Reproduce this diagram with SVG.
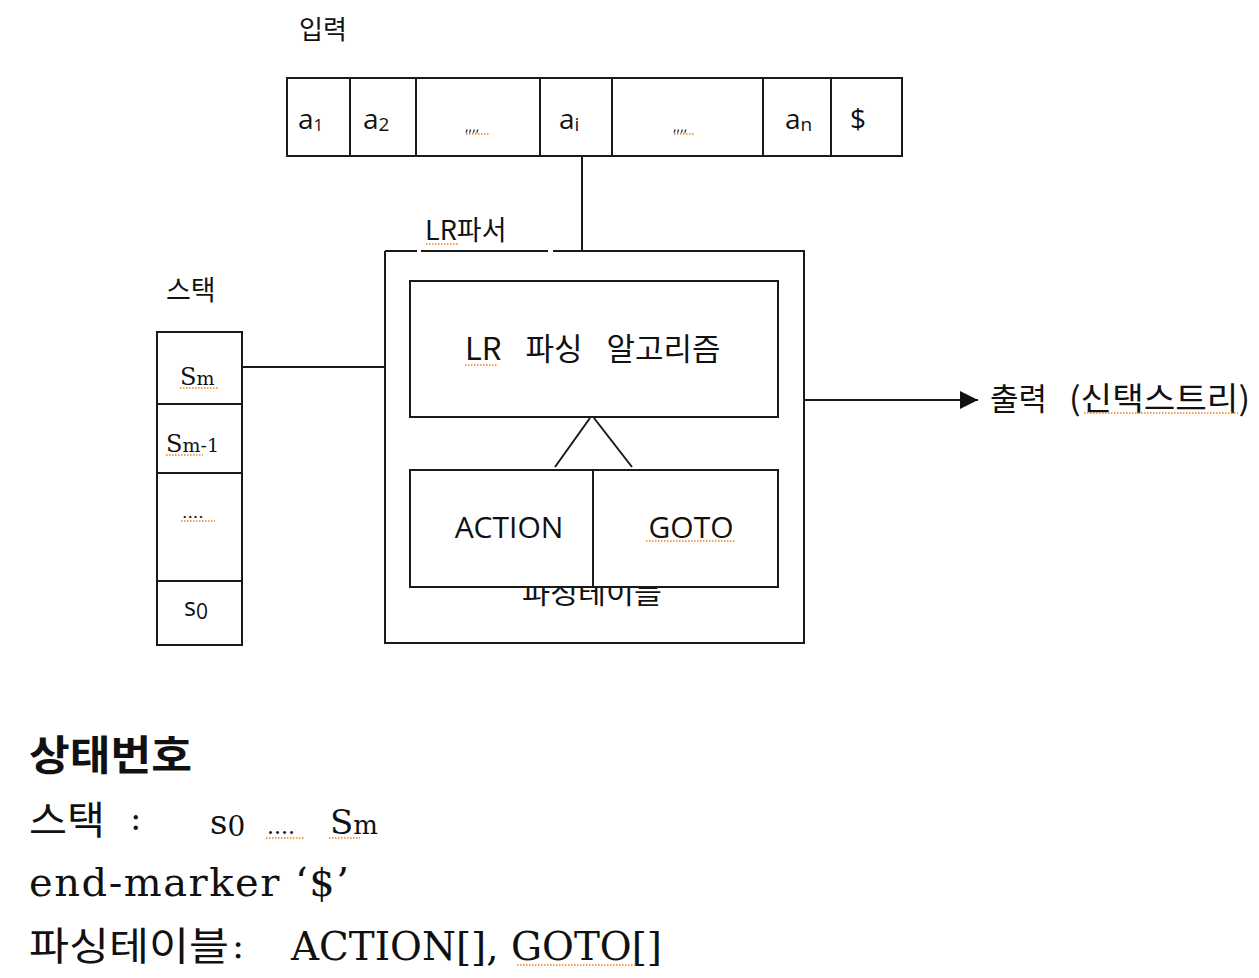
<svg xmlns="http://www.w3.org/2000/svg" width="1259" height="978" viewBox="0 0 1259 978">
<style>
.box{fill:#fff;stroke:#1a1a1a;stroke-width:2}
.ln{fill:none;stroke:#1a1a1a;stroke-width:2}
.sq{fill:none;stroke:#f08020;stroke-width:1.3;stroke-dasharray:1.5 1.5}
.sans{font-family:"Open Sans","Noto Sans","Noto Sans CJK KR",sans-serif;fill:#111}
.kr{font-family:"Noto Sans CJK KR",sans-serif;fill:#111}
.ser{font-family:"DejaVu Serif","Liberation Serif","Noto Sans CJK KR",serif;fill:#111}
</style>
<defs>
<marker id="arr" viewBox="0 0 10 10" refX="10" refY="5" markerWidth="18" markerHeight="18" markerUnits="userSpaceOnUse" orient="auto">
<path d="M0,0 L10,5 L0,10 z" fill="#111"/>
</marker>
</defs>
<rect width="1259" height="978" fill="#fff"/>

<g id="input">
<text class="kr" x="299" y="39" font-size="26">입력</text>
<rect class="box" x="287" y="78" width="615" height="78"/>
<path class="ln" d="M350,78V156M416,78V156M540,78V156M612,78V156M763,78V156M831,78V156"/>
<text class="sans" x="298" y="129" font-size="28">a<tspan font-size="17" dy="2">1</tspan></text>
<text class="sans" x="363" y="129" font-size="28">a<tspan font-size="19" dy="2">2</tspan></text>
<text class="sans" x="465" y="131" font-size="14" fill="#c06010">,,,,</text>
<path class="sq" d="M466,134H489"/>
<text class="sans" x="559" y="129" font-size="28">a<tspan font-size="19" dy="2">i</tspan></text>
<text class="sans" x="673" y="131" font-size="14" fill="#c06010">,,,,</text>
<path class="sq" d="M674,134H695"/>
<text class="sans" x="785" y="129" font-size="28">a<tspan font-size="19" dy="2">n</tspan></text>
<text class="sans" x="850" y="129" font-size="28">$</text>
</g>

<g id="stack">
<text class="kr" x="166" y="300" font-size="27">스택</text>
<rect class="box" x="157" y="332" width="85" height="313"/>
<path class="ln" d="M157,404H242M157,473H242M157,581H242"/>
<text class="ser" x="180" y="385" font-size="24">S<tspan font-size="19">m</tspan></text>
<path class="sq" d="M180,388H218"/>
<text class="ser" x="166" y="452" font-size="24">S<tspan font-size="19">m-1</tspan></text>
<path class="sq" d="M166,455H203"/>
<text class="ser" x="182" y="518" font-size="17">....</text>
<path class="sq" d="M181,521H215"/>
<text class="sans" x="184" y="616" font-size="25">s<tspan font-size="21" dy="3">0</tspan></text>
</g>

<g id="parser">
<text class="kr" x="425" y="240" font-size="27">LR파서</text>
<path class="sq" d="M426,244H459"/>
<rect x="385" y="251" width="419" height="392" fill="#fff" stroke="none"/>
<path class="ln" d="M385,251V643H804V251H553M548,251H421M417,251H385"/>
</g>

<g id="algorithm">
<rect class="box" x="410" y="281" width="368" height="136"/>
<text class="kr" x="465" y="360" font-size="31" word-spacing="17">LR 파싱 알고리즘</text>
<path class="sq" d="M465,365H497"/>
</g>

<g id="table">
<text class="kr" x="522" y="604" font-size="28" textLength="140" lengthAdjust="spacingAndGlyphs">파싱테이블</text>
<rect class="box" x="410" y="470" width="368" height="117"/>
<path class="ln" d="M593,470V587"/>
<text class="sans" x="509" y="538" font-size="30" text-anchor="middle">ACTION</text>
<text class="sans" x="691" y="538" font-size="30" text-anchor="middle">GOTO</text>
<path class="sq" d="M646,541H735"/>
</g>

<g id="output">
<text class="kr" x="990" y="410" font-size="31">출력</text>
<text class="kr" x="1069" y="410" font-size="32" textLength="181" lengthAdjust="spacingAndGlyphs">(신택스트리)</text>
<path class="sq" d="M1084,413H1238"/>
</g>

<g id="connectors">
<path class="ln" d="M582,156V251"/>
<path class="ln" d="M242,367H385"/>
<path class="ln" d="M804,400H978" marker-end="url(#arr)"/>
<path class="ln" d="M555,467L590,418M594,418L632,467"/>
</g>

<g id="notes">
<text class="kr" x="29" y="770" font-size="41" font-weight="bold" textLength="163" lengthAdjust="spacingAndGlyphs">상태번호</text>
<text class="kr" x="29" y="834" font-size="39" textLength="76" lengthAdjust="spacingAndGlyphs">스택</text>
<text class="ser" x="130" y="830" font-size="34">:</text>
<text class="ser" x="210" y="834" font-size="34">s<tspan font-size="28" dy="2">0</tspan></text>
<text class="ser" x="267" y="834" font-size="22">....</text>
<path class="sq" d="M266,838H305"/>
<text class="ser" x="330" y="834" font-size="34">S<tspan font-size="26">m</tspan></text>
<path class="sq" d="M329,838H360"/>
<text class="ser" x="29" y="896" font-size="40" textLength="320" lengthAdjust="spacing">end-marker ‘$’</text>
<text class="kr" x="29" y="960" font-size="39" textLength="200" lengthAdjust="spacingAndGlyphs">파싱테이블</text>
<text class="ser" x="232" y="958" font-size="36">:</text>
<text class="ser" x="291" y="960" font-size="40" textLength="371" lengthAdjust="spacingAndGlyphs">ACTION[], GOTO[]</text>
<path class="sq" d="M517,965H636"/>
</g>
</svg>
